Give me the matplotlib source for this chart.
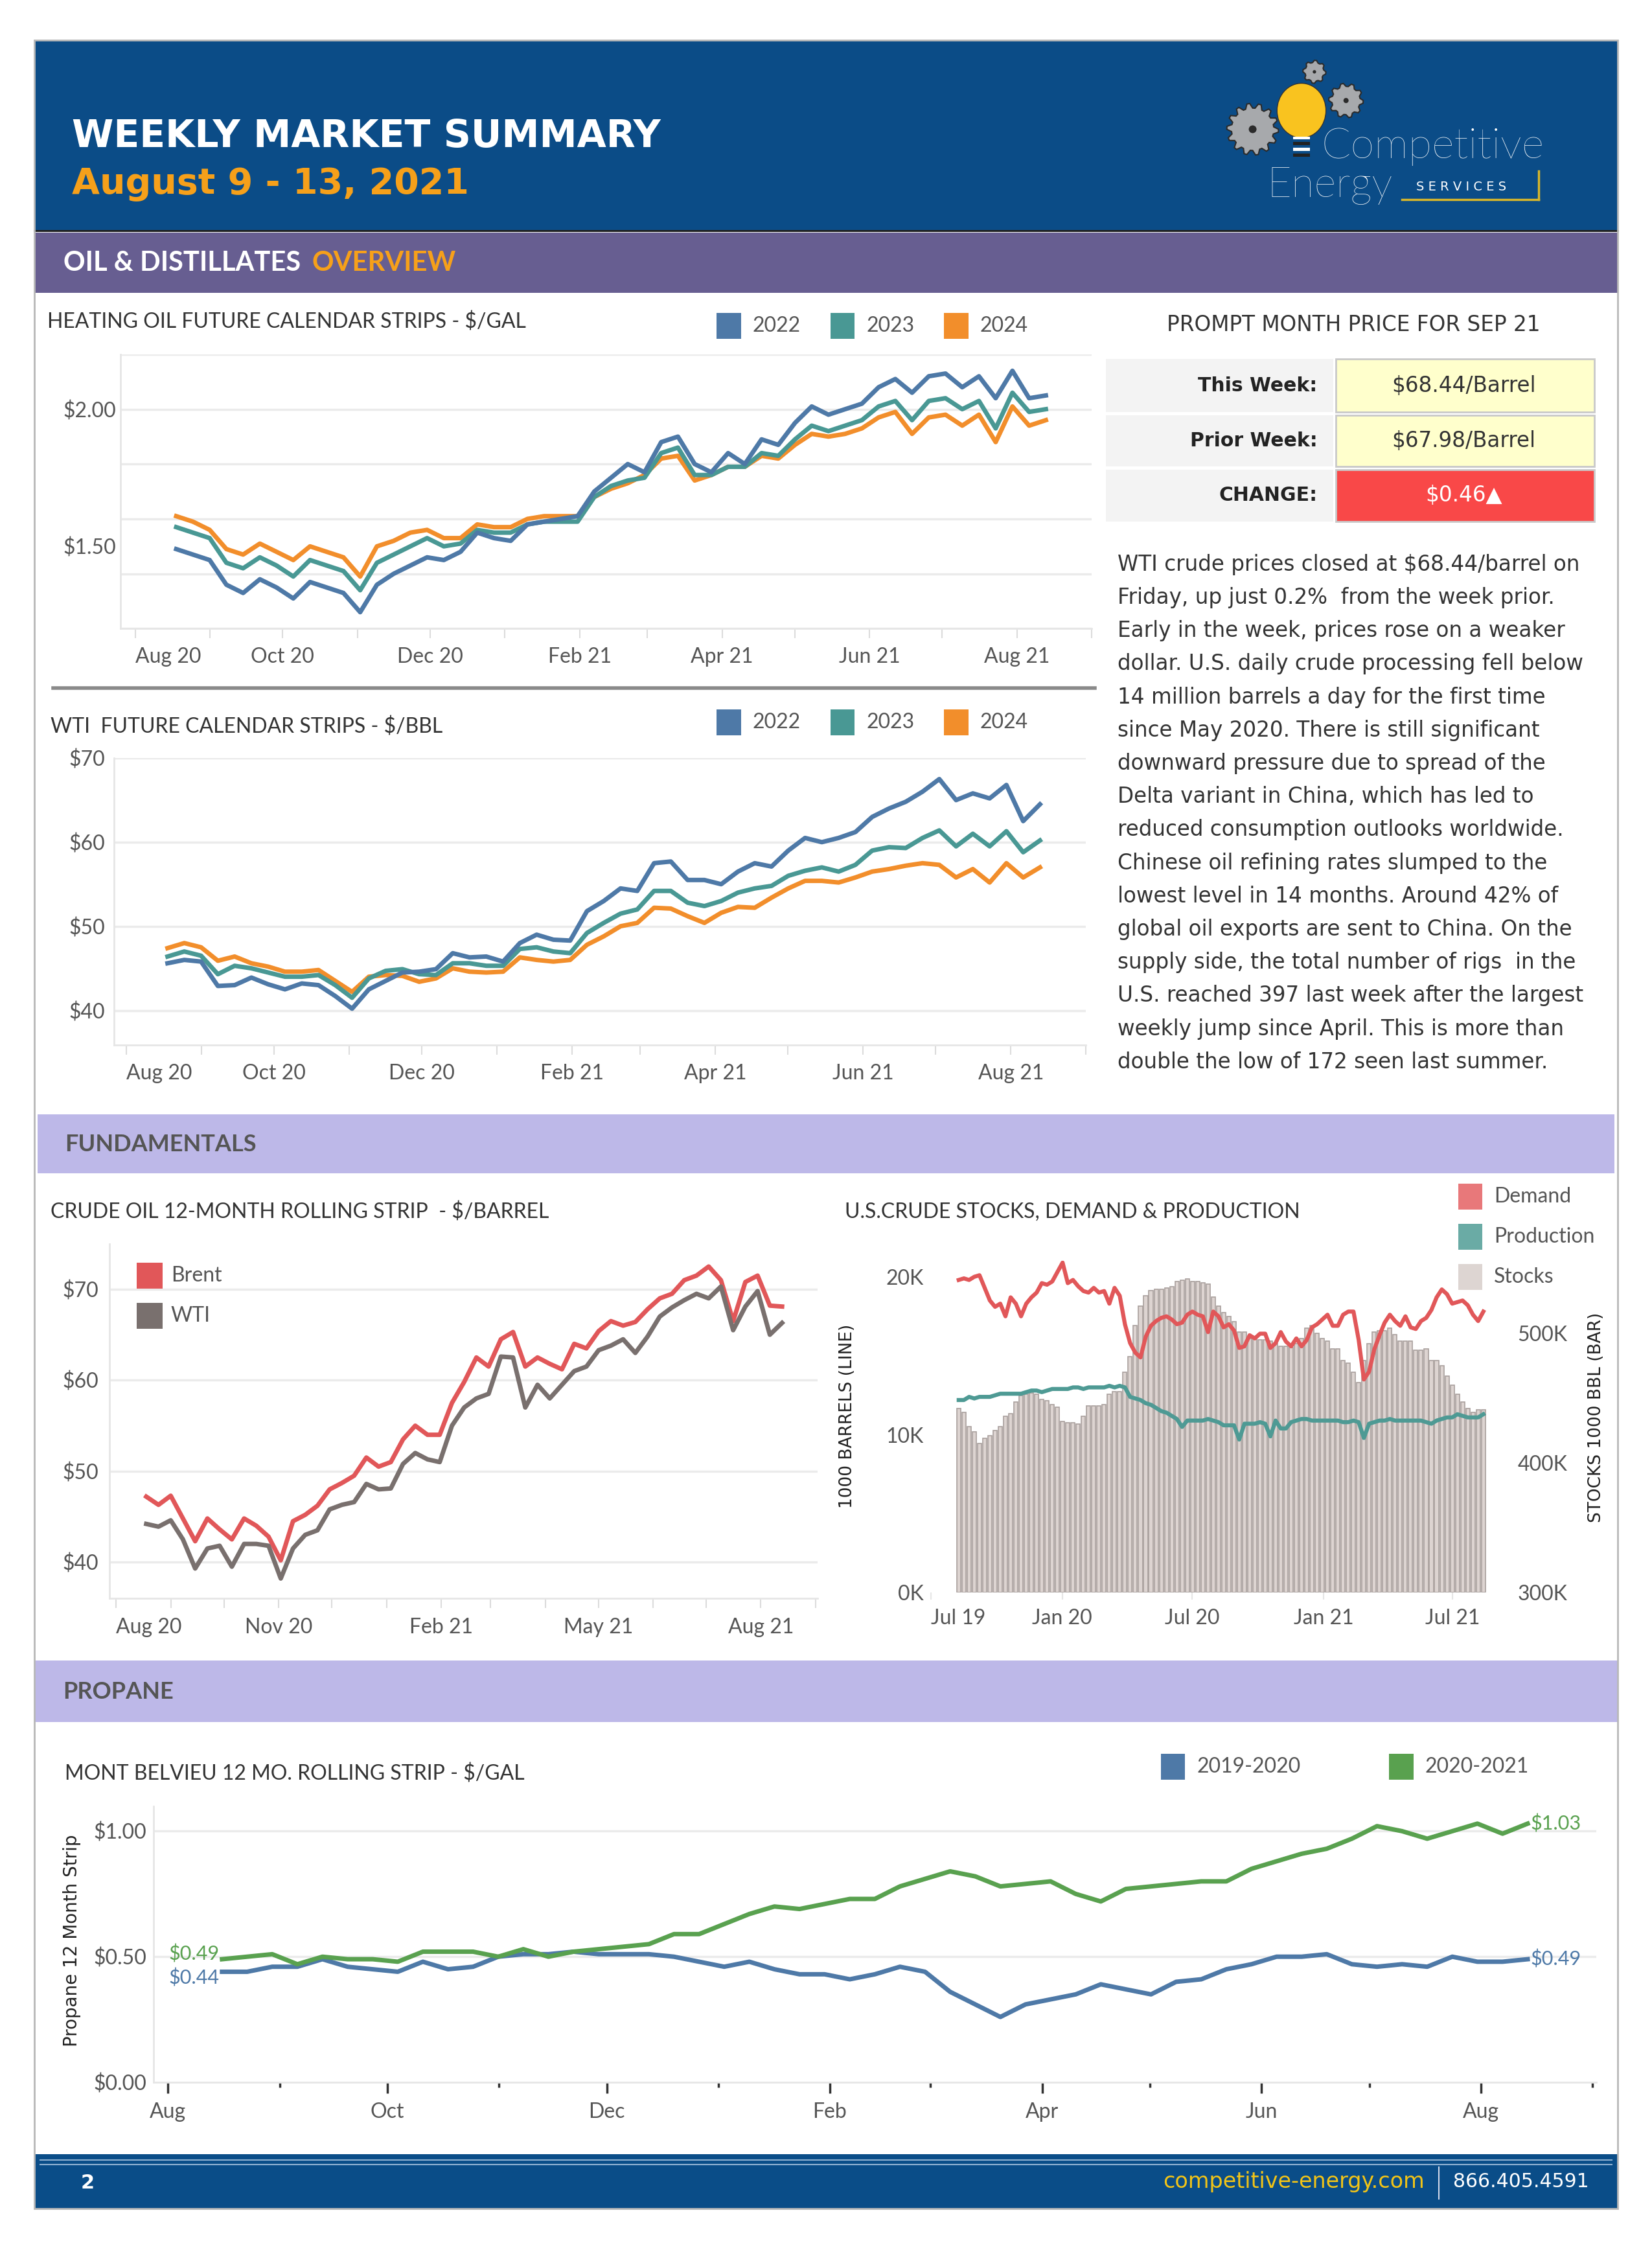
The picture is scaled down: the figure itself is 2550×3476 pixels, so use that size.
import numpy as np
import pandas as pd
import matplotlib
matplotlib.use("Agg")
import matplotlib.pyplot as plt
import matplotlib.dates as mdates
import matplotlib.patches as mpatches
from matplotlib.lines import Line2D
from matplotlib.ticker import FuncFormatter

plt.rcParams['text.parse_math'] = False
plt.rcParams['font.family'] = ['Lato', 'DejaVu Sans']

# ---------------- data ----------------
strip_dates = pd.date_range('2020-08-18', '2021-08-13', periods=53)

ho_2022 = [1.49, 1.47, 1.45, 1.36, 1.33, 1.38, 1.35, 1.31, 1.37, 1.35,
           1.33, 1.26, 1.36, 1.40, 1.43, 1.46, 1.45, 1.48, 1.55, 1.53,
           1.52, 1.58, 1.59, 1.60, 1.61, 1.70, 1.75, 1.80, 1.77, 1.88,
           1.90, 1.80, 1.77, 1.84, 1.80, 1.89, 1.87, 1.95, 2.01, 1.98,
           2.00, 2.02, 2.08, 2.11, 2.06, 2.12, 2.13, 2.08, 2.12, 2.04,
           2.14, 2.04, 2.05]
ho_2023 = [1.57, 1.55, 1.53, 1.44, 1.42, 1.46, 1.43, 1.39, 1.45, 1.43,
           1.41, 1.34, 1.44, 1.47, 1.50, 1.53, 1.50, 1.51, 1.56, 1.55,
           1.55, 1.58, 1.59, 1.59, 1.59, 1.68, 1.72, 1.74, 1.75, 1.84,
           1.86, 1.76, 1.76, 1.79, 1.79, 1.84, 1.83, 1.89, 1.94, 1.92,
           1.94, 1.96, 2.01, 2.03, 1.96, 2.03, 2.04, 2.00, 2.03, 1.93,
           2.06, 1.99, 2.00]
ho_2024 = [1.61, 1.59, 1.56, 1.49, 1.47, 1.51, 1.48, 1.45, 1.50, 1.48,
           1.46, 1.39, 1.50, 1.52, 1.55, 1.56, 1.53, 1.53, 1.58, 1.57,
           1.57, 1.60, 1.61, 1.61, 1.61, 1.68, 1.71, 1.73, 1.76, 1.82,
           1.83, 1.74, 1.76, 1.79, 1.79, 1.83, 1.82, 1.87, 1.91, 1.90,
           1.91, 1.93, 1.97, 1.99, 1.91, 1.97, 1.98, 1.94, 1.98, 1.88,
           2.01, 1.94, 1.96]

wti_2022 = [45.6, 46.0, 45.8, 42.9, 43.0, 43.9, 43.1, 42.5, 43.2, 43.0,
            41.7, 40.2, 42.5, 43.5, 44.5, 44.6, 44.9, 46.8, 46.3, 46.4,
            45.8, 48.0, 49.0, 48.4, 48.3, 51.8, 53.0, 54.5, 54.2, 57.5,
            57.7, 55.5, 55.5, 55.0, 56.5, 57.5, 57.1, 59.0, 60.5, 60.0,
            60.5, 61.2, 63.0, 64.0, 64.8, 66.0, 67.5, 65.0, 65.8, 65.2,
            66.8, 62.5, 64.5]
wti_2023 = [46.4, 47.0, 46.5, 44.3, 45.3, 45.0, 44.5, 44.0, 44.0, 44.2,
            43.0, 41.5, 43.8, 44.7, 44.9, 44.3, 44.2, 45.6, 45.6, 45.3,
            45.3, 47.3, 47.5, 47.0, 46.8, 49.2, 50.4, 51.5, 52.0, 54.2,
            54.2, 52.8, 52.4, 53.0, 54.0, 54.5, 54.8, 56.0, 56.6, 57.0,
            56.5, 57.3, 59.0, 59.4, 59.3, 60.5, 61.4, 59.5, 61.0, 59.5,
            61.3, 58.8, 60.2]
wti_2024 = [47.4, 48.0, 47.5, 45.9, 46.4, 45.6, 45.2, 44.6, 44.6, 44.8,
            43.5, 42.2, 44.0, 44.2, 44.1, 43.4, 43.8, 45.0, 44.6, 44.5,
            44.6, 46.3, 46.0, 45.8, 46.0, 47.8, 48.8, 50.0, 50.4, 52.2,
            52.1, 51.2, 50.4, 51.6, 52.3, 52.2, 53.4, 54.5, 55.4, 55.4,
            55.2, 55.8, 56.5, 56.8, 57.2, 57.5, 57.3, 55.8, 56.8, 55.2,
            57.5, 55.8, 57.0]

brent = [47.2, 46.3, 47.3, 44.8, 42.3, 44.8, 43.6, 42.5, 44.8, 44.0,
         42.8, 40.2, 44.5, 45.2, 46.2, 48.0, 48.7, 49.5, 51.5, 50.5,
         51.0, 53.5, 55.0, 54.0, 54.0, 57.5, 59.8, 62.5, 61.5, 64.5,
         65.3, 61.5, 62.5, 61.8, 61.2, 64.0, 63.5, 65.4, 66.5, 66.0,
         66.4, 67.8, 69.0, 69.5, 71.0, 71.5, 72.5, 71.0, 66.5, 70.8,
         71.5, 68.2, 68.1]
wti_crude = [44.2, 43.9, 44.6, 42.5, 39.3, 41.5, 41.8, 39.5, 42.0, 42.0,
             41.8, 38.2, 41.5, 43.0, 43.5, 45.8, 46.3, 46.6, 48.6, 48.0,
             48.1, 50.8, 52.0, 51.3, 51.0, 55.0, 57.0, 58.0, 58.5, 62.6,
             62.5, 57.0, 59.5, 58.0, 59.5, 61.0, 61.5, 63.3, 63.8, 64.5,
             63.0, 64.8, 67.0, 68.0, 68.8, 69.5, 69.0, 70.3, 65.5, 68.1,
             69.8, 65.0, 66.3]

eia_dates = pd.date_range('2019-08-09', '2021-08-13', periods=102)
stocks = [442, 439, 428, 424, 415, 419, 421, 425, 428, 436,
          438, 447, 452, 453, 454, 453, 449, 448, 445, 443,
          432, 431, 431, 430, 436, 444, 444, 444, 445, 453,
          455, 455, 470, 482, 506, 521, 529, 533, 534, 534,
          535, 536, 540, 541, 542, 540, 540, 539, 538, 528,
          521, 516, 513, 509, 501, 501, 496, 496, 495, 495,
          494, 492, 490, 490, 489, 492, 496, 504, 506, 500,
          496, 494, 488, 488, 479, 477, 470, 462, 479, 492,
          501, 502, 502, 504, 499, 494, 494, 494, 487, 487,
          488, 479, 479, 475, 467, 460, 453, 447, 442, 439,
          441, 441]
demand = [19.8, 19.9, 19.8, 20.0, 20.1, 19.3, 18.5, 18.1, 18.3, 17.5,
          18.7, 18.3, 17.5, 18.3, 18.7, 19.0, 19.6, 19.5, 19.7, 20.3,
          20.9, 19.6, 19.8, 19.4, 19.1, 19.0, 19.3, 19.0, 19.1, 18.3,
          19.3, 18.8, 17.0, 15.8, 15.2, 14.9, 16.2, 16.9, 17.2, 17.4,
          17.5, 17.3, 17.0, 17.1, 17.6, 17.8, 17.6, 17.5, 16.5, 17.8,
          17.5, 16.8, 17.0, 16.6, 15.5, 15.6, 16.3, 16.1, 16.4, 16.4,
          15.5, 15.8, 16.5, 15.9, 15.6, 16.1, 15.6, 16.0, 16.8, 17.0,
          17.3, 17.6, 16.9, 16.9, 17.6, 17.8, 17.8, 16.0, 13.5, 14.0,
          15.4, 16.3, 17.1, 17.6, 17.2, 16.9, 17.5, 16.8, 16.7, 17.2,
          17.4, 17.9, 18.7, 19.2, 18.9, 18.3, 18.4, 18.5, 18.2, 17.6,
          17.2, 17.8]
production = [12.2, 12.2, 12.4, 12.3, 12.4, 12.4, 12.4, 12.5, 12.6, 12.6,
              12.6, 12.6, 12.6, 12.7, 12.8, 12.8, 12.7, 12.8, 12.9, 12.9,
              12.9, 12.9, 13.0, 13.0, 12.9, 13.0, 13.0, 13.0, 13.0, 13.1,
              13.0, 13.1, 13.0, 12.4, 12.3, 12.2, 12.0, 11.9, 11.7, 11.5,
              11.4, 11.2, 11.0, 10.5, 10.9, 10.9, 10.9, 10.9, 11.0, 10.9,
              10.8, 10.6, 10.6, 10.6, 9.7, 10.7, 10.7, 10.7, 10.8, 10.7,
              9.9, 10.9, 10.4, 10.4, 10.8, 10.9, 11.0, 11.0, 10.9, 10.9,
              10.9, 10.9, 10.9, 10.9, 10.8, 10.8, 10.9, 10.8, 9.8, 10.7,
              10.8, 10.9, 10.9, 11.0, 10.9, 10.9, 10.9, 10.9, 10.9, 10.9,
              10.8, 10.7, 10.9, 11.0, 11.1, 11.1, 11.3, 11.2, 11.1, 11.1,
              11.1, 11.3]

propane_dates = pd.date_range('2020-08-16', '2021-08-14', periods=53)
propane_1920 = [0.44, 0.44, 0.46, 0.46, 0.49, 0.46, 0.45, 0.44, 0.48, 0.45,
                0.46, 0.50, 0.51, 0.51, 0.52, 0.51, 0.51, 0.51, 0.50, 0.48,
                0.46, 0.48, 0.45, 0.43, 0.43, 0.41, 0.43, 0.46, 0.44, 0.36,
                0.31, 0.26, 0.31, 0.33, 0.35, 0.39, 0.37, 0.35, 0.40, 0.41,
                0.45, 0.47, 0.50, 0.50, 0.51, 0.47, 0.46, 0.47, 0.46, 0.50,
                0.48, 0.48, 0.49]
propane_2021 = [0.49, 0.50, 0.51, 0.47, 0.50, 0.49, 0.49, 0.48, 0.52, 0.52,
                0.52, 0.50, 0.53, 0.50, 0.52, 0.53, 0.54, 0.55, 0.59, 0.59,
                0.63, 0.67, 0.70, 0.69, 0.71, 0.73, 0.73, 0.78, 0.81, 0.84,
                0.82, 0.78, 0.79, 0.80, 0.75, 0.72, 0.77, 0.78, 0.79, 0.80,
                0.80, 0.85, 0.88, 0.91, 0.93, 0.97, 1.02, 1.00, 0.97, 1.00,
                1.03, 0.99, 1.03]

prompt_month = 'SEP 21'
this_week = 68.44
prior_week = 67.98

summary_lines = [
    "WTI crude prices closed at $68.44/barrel on",
    "Friday, up just 0.2%  from the week prior.",
    "Early in the week, prices rose on a weaker",
    "dollar. U.S. daily crude processing fell below",
    "14 million barrels a day for the first time",
    "since May 2020. There is still significant",
    "downward pressure due to spread of the",
    "Delta variant in China, which has led to",
    "reduced consumption outlooks worldwide.",
    "Chinese oil refining rates slumped to the",
    "lowest level in 14 months. Around 42% of",
    "global oil exports are sent to China. On the",
    "supply side, the total number of rigs  in the",
    "U.S. reached 397 last week after the largest",
    "weekly jump since April. This is more than",
    "double the low of 172 seen last summer.",
]

c22, c23, c24 = '#4e79a7', '#499894', '#f28e2b'
BODY = ['DejaVu Sans']

# ---------------- page helpers (layout in 1150 x 1568 page units) ----------------
fig = plt.figure(figsize=(25.5, 34.76), dpi=100)
fig.patch.set_facecolor('white')
W, H = 1150.0, 1568.0


def fx(x):
    return x / W


def fy(y):
    return 1 - y / H


def box(x0, y0, x1, y1, fc, ec='none', lw=0, z=1):
    fig.add_artist(mpatches.Rectangle((fx(x0), fy(y1)), (x1 - x0) / W, (y1 - y0) / H,
                                      transform=fig.transFigure, facecolor=fc,
                                      edgecolor=ec, linewidth=lw, zorder=z))


def seg(xs, ys, color, lw, z=2):
    fig.add_artist(Line2D([fx(x) for x in xs], [fy(y) for y in ys],
                          transform=fig.transFigure, color=color, lw=lw, zorder=z))


def txt(x, y, s, **kw):
    kw.setdefault('va', 'center')
    kw.setdefault('zorder', 5)
    return fig.text(fx(x), fy(y), s, **kw)


def axes_at(x0, y0, x1, y1):
    return fig.add_axes([fx(x0), fy(y1), (x1 - x0) / W, (y1 - y0) / H])


renderer = fig.canvas.get_renderer()


def right_of(t):
    return t.get_window_extent(renderer=renderer).x1 / fig.bbox.width * W


def left_of(t):
    return t.get_window_extent(renderer=renderer).x0 / fig.bbox.width * W


def legend_row(entries, y, size=23):
    for x, label, color in entries:
        box(x, y - 9, x + 17, y + 9, color)
        txt(x + 25, y, label, fontsize=size, color='#555555')


def month_ticks(ax, start, end, step, fmt, first_left=True):
    majors = pd.date_range(start, end, freq=f'{step}MS')
    ax.set_xticks(majors)
    labels = ax.set_xticklabels([d.strftime(fmt) for d in majors])
    if first_left:
        labels[0].set_ha('left')
    ax.set_xticks(pd.date_range(start, pd.Timestamp(end) + pd.DateOffset(months=1), freq='MS'), minor=True)


def style(ax, ylim, grid, yticks, fmt, ypad):
    ax.set_ylim(*ylim)
    for v in grid:
        ax.axhline(v, color='#ebebeb', lw=2.5, zorder=0)
    ax.set_yticks(yticks)
    ax.yaxis.set_major_formatter(FuncFormatter(fmt))
    for s in ('top', 'right'):
        ax.spines[s].set_visible(False)
    for s in ('left', 'bottom'):
        ax.spines[s].set_color('#e6e6e6')
        ax.spines[s].set_linewidth(2)
    ax.tick_params(axis='y', length=0, labelsize=23, labelcolor='#555555', pad=ypad)
    ax.tick_params(axis='x', which='both', length=11, width=1.5, color='#dcdcdc',
                   labelsize=23, labelcolor='#555555', pad=10)


def gear(cx, cy, r, n):
    t = np.linspace(0, 2 * np.pi, n * 4, endpoint=False)
    rr = np.where((np.arange(n * 4) // 2) % 2 == 0, r, r * 0.82)
    pts = np.column_stack([fx(cx + rr * np.cos(t)), fy(cy + rr * np.sin(t))])
    fig.add_artist(mpatches.Polygon(pts, closed=True, transform=fig.transFigure,
                                    facecolor='#a7a9ac', edgecolor='#2b2b2b', lw=1.5, zorder=3))
    fig.add_artist(mpatches.Ellipse((fx(cx), fy(cy)), 0.3 * r / W, 0.3 * r / H,
                                    transform=fig.transFigure, facecolor='#2b2b2b', zorder=4))


# ---------------- page frame, header, footer ----------------
box(24, 28, 1126, 160, '#0b4c87')
seg([24, 1126], [160.5, 160.5], '#111111', 2)
box(24, 162, 1126, 204, '#675e91')
box(26, 776, 1124, 817, '#bdb8e8')
box(24, 1156, 1126, 1199, '#bdb8e8')
box(24, 1500, 1126, 1538, '#0a4d88')
seg([28, 1122], [1504, 1504], '#8fb0d0', 1.5, z=3)
seg([28, 1122], [1507, 1507], '#8fb0d0', 1.5, z=3)
fig.add_artist(mpatches.Rectangle((fx(24), fy(1538)), 1102 / W, 1510 / H, transform=fig.transFigure,
                                  facecolor='none', edgecolor='#b8b8b8', lw=2, zorder=6))

txt(50, 95, 'WEEKLY MARKET SUMMARY', family=BODY, fontsize=42, weight='bold', color='white')
txt(50, 128, 'August 9 - 13, 2021', family=BODY, fontsize=40, weight='bold', color='#f6a01a')

# logo
gear(915, 50, 8, 8)
gear(937, 70, 12, 10)
gear(872, 90, 18, 14)
fig.add_artist(mpatches.Ellipse((fx(906), fy(77)), 34 / W, 38 / H, transform=fig.transFigure,
                                facecolor='#f9c31f', edgecolor='#333333', lw=1, zorder=4))
for i in range(4):
    box(900, 95 + i * 4, 912, 97 + i * 4, 'white' if i % 2 == 0 else '#222222', z=4)
txt(920, 102, 'Competitive', fontsize=48, weight='light', color='white')
txt(882, 129, 'Energy', fontsize=47, weight='light', color='white')
txt(986, 130, 'S E R V I C E S', family=BODY, fontsize=14, color='white')
seg([976, 1071], [139, 139], '#d8b62a', 2.5, z=4)
seg([1071, 1071], [119, 139], '#d8b62a', 2.5, z=4)

t = txt(44, 183, 'OIL & DISTILLATES', fontsize=30, weight='bold', color='white')
txt(right_of(t) + 8, 183, 'OVERVIEW', fontsize=30, weight='bold', color='#f6a01a')
txt(45, 797, 'FUNDAMENTALS', fontsize=26, weight='bold', color='#555555')
txt(44, 1178, 'PROPANE', fontsize=26, weight='bold', color='#555555')

txt(56, 1520, '2', family=BODY, fontsize=22, weight='bold', color='white')
t = txt(1106, 1519, '866.405.4591', family=BODY, fontsize=21.5, color='white', ha='right')
x_bar = left_of(t) - 10
seg([x_bar, x_bar], [1509, 1531], '#d0d8e8', 1.5, z=5)
txt(x_bar - 10, 1519, 'competitive-energy.com', family=BODY, fontsize=24, color='#f2c417', ha='right')

# ---------------- heating oil strips ----------------
txt(33, 224, 'HEATING OIL FUTURE CALENDAR STRIPS - $/GAL', fontsize=23, color='#333333')
legend_row([(499, '2022', c22), (578, '2023', c23), (657, '2024', c24)], 227)
ax = axes_at(84, 246.7, 760, 437.7)
ax.plot(strip_dates, ho_2024, color=c24, lw=5)
ax.plot(strip_dates, ho_2023, color=c23, lw=5)
ax.plot(strip_dates, ho_2022, color=c22, lw=5)
ax.set_xlim(pd.Timestamp('2020-07-26'), pd.Timestamp('2021-09-01'))
month_ticks(ax, '2020-08-01', '2021-08-01', 2, '%b %y')
style(ax, (1.2, 2.2), [1.2, 1.4, 1.6, 1.8, 2.0, 2.2], [1.5, 2.0], lambda v, p: f'${v:.2f}', 5)

seg([37, 762], [479, 479], '#8a8a8a', 4)

# ---------------- WTI strips ----------------
txt(35, 506, 'WTI  FUTURE CALENDAR STRIPS - $/BBL', fontsize=23, color='#333333')
legend_row([(499, '2022', c22), (578, '2023', c23), (657, '2024', c24)], 503)
ax = axes_at(79.5, 527.8, 756, 727.5)
ax.plot(strip_dates, wti_2024, color=c24, lw=5)
ax.plot(strip_dates, wti_2023, color=c23, lw=5)
ax.plot(strip_dates, wti_2022, color=c22, lw=5)
ax.set_xlim(pd.Timestamp('2020-07-27'), pd.Timestamp('2021-09-01'))
month_ticks(ax, '2020-08-01', '2021-08-01', 2, '%b %y')
style(ax, (35.9, 70.0), [40, 50, 60, 70], [40, 50, 60, 70], lambda v, p: f'${v:.0f}', 10)

# ---------------- prompt month box + commentary ----------------
txt(942, 226, f'PROMPT MONTH PRICE FOR {prompt_month}', family=BODY, fontsize=23.5, color='#333333', ha='center')
change = this_week - prior_week
rows = [('This Week:', f'${this_week:.2f}/Barrel', '#ffffcc', '#333333', 250, 287),
        ('Prior Week:', f'${prior_week:.2f}/Barrel', '#ffffcc', '#333333', 289, 325),
        ('CHANGE:', f'${change:.2f}\u25b2', '#f94848', 'white', 327, 363)]
for label, value, fc, tc, y0, y1 in rows:
    box(770, y0, 928, y1, '#f3f3f3')
    box(930, y0, 1110, y1, fc, ec='#c9c9c9', lw=2)
    txt(917, (y0 + y1) / 2, label, family=BODY, fontsize=21.5, weight='bold', color='#222222', ha='right')
    txt(1019, (y0 + y1) / 2, value, family=BODY, fontsize=23.5, color=tc, ha='center')

for i, line in enumerate(summary_lines):
    txt(778, 393 + i * 23.1, line, family=BODY, fontsize=23.5, color='#333333')

# ---------------- crude oil 12 month rolling strip ----------------
txt(35, 844, 'CRUDE OIL 12-MONTH ROLLING STRIP  - $/BARREL', fontsize=23, color='#333333')
ax = axes_at(76, 866, 569, 1113)
ax.plot(strip_dates, brent, color='#e15759', lw=5)
ax.plot(strip_dates, wti_crude, color='#79706e', lw=5)
ax.set_xlim(pd.Timestamp('2020-07-28'), pd.Timestamp('2021-09-02'))
month_ticks(ax, '2020-08-01', '2021-08-01', 3, '%b %y')
style(ax, (36, 75), [40, 50, 60, 70], [40, 50, 60, 70], lambda v, p: f'${v:.0f}', 12)
box(95, 879, 113, 897, '#e15759', z=5)
txt(119, 888, 'Brent', fontsize=23, color='#555555')
box(95, 907, 113, 925, '#79706e', z=5)
txt(119, 916, 'WTI', fontsize=23, color='#555555')

# ---------------- US crude stocks, demand & production ----------------
txt(588, 844, 'U.S.CRUDE STOCKS, DEMAND & PRODUCTION', fontsize=23, color='#333333')
legend_row([(1015, 'Demand', '#e8787a')], 833)
legend_row([(1015, 'Production', '#6aaba5')], 861)
legend_row([(1015, 'Stocks', '#ddd5d2')], 889)
ax = axes_at(648, 878, 1049, 1109)
ax2 = ax.twinx()
ax2.bar(eia_dates, np.array(stocks) - 300, bottom=300, width=5.5,
        color='#ddd4d1', edgecolor='#a9a09d', linewidth=1.2)
ax2.set_ylim(300, 555.8)
ax2.set_yticks([300, 400, 500])
ax2.yaxis.set_major_formatter(FuncFormatter(lambda v, p: f'{v:.0f}K'))
ax2.tick_params(axis='y', length=0, labelsize=23, labelcolor='#555555', pad=12)
ax.plot(eia_dates, production, color='#4e9a94', lw=4.5)
ax.plot(eia_dates, demand, color='#e15759', lw=4.5)
ax.set_zorder(ax2.get_zorder() + 1)
ax.patch.set_visible(False)
ax.set_ylim(0, 21.0)
ax.set_yticks([0, 10, 20])
ax.yaxis.set_major_formatter(FuncFormatter(lambda v, p: f'{v:.0f}K'))
ax.tick_params(axis='y', length=0, labelsize=23, labelcolor='#555555', pad=8)
tick_days = pd.date_range('2019-07-01', '2021-07-01', freq='6MS')
ax.set_xlim(pd.Timestamp('2019-07-01'), pd.Timestamp('2021-09-15'))
ax.set_xticks(tick_days)
labels = ax.set_xticklabels([d.strftime('%b %y') for d in tick_days])
labels[0].set_ha('left')
ax.tick_params(axis='x', length=8, width=1.5, color='#e6e6e6', labelsize=23, labelcolor='#555555', pad=10)
for a in (ax, ax2):
    for s in a.spines.values():
        s.set_visible(False)
txt(590, 986, '1000 BARRELS (LINE)', family=BODY, fontsize=19, color='#222222', rotation=90, ha='center')
txt(1111, 987, 'STOCKS 1000 BBL (BAR)', family=BODY, fontsize=19, color='#222222', rotation=90, ha='center')

# ---------------- propane ----------------
txt(45, 1235, 'MONT BELVIEU 12 MO. ROLLING STRIP - $/GAL', fontsize=23, color='#333333')
legend_row([(808, '2019-2020', c22), (967, '2020-2021', '#59a14f')], 1230)
ax = axes_at(107, 1257.5, 1111, 1449.8)
ax.plot(propane_dates, propane_1920, color=c22, lw=5)
ax.plot(propane_dates, propane_2021, color='#59a14f', lw=5)
start_shift = {c22: -7, '#59a14f': 6}
for series, color in ((propane_1920, c22), (propane_2021, '#59a14f')):
    ax.annotate(f'${series[0]:.2f}', (propane_dates[0], series[0]), xytext=(-3, start_shift[color]),
                textcoords='offset points', ha='right', va='center', fontsize=22, color=color)
    ax.annotate(f'${series[-1]:.2f}', (propane_dates[-1], series[-1]), xytext=(3, 0),
                textcoords='offset points', ha='left', va='center', fontsize=22, color=color)
ax.set_xlim(pd.Timestamp('2020-07-28'), pd.Timestamp('2021-09-02'))
month_ticks(ax, '2020-08-01', '2021-08-01', 2, '%b', first_left=False)
style(ax, (0, 1.10), [0.5, 1.0], [0, 0.5, 1.0], lambda v, p: f'${v:.2f}', 8)
ax.tick_params(axis='x', which='major', length=12, width=2.5, color='#333333', pad=10)
ax.tick_params(axis='x', which='minor', length=6, width=2.5, color='#333333')
txt(50, 1351, 'Propane 12 Month Strip', family=BODY, fontsize=20, color='#222222', rotation=90, ha='center')

fig.savefig('out.png', dpi=100)
